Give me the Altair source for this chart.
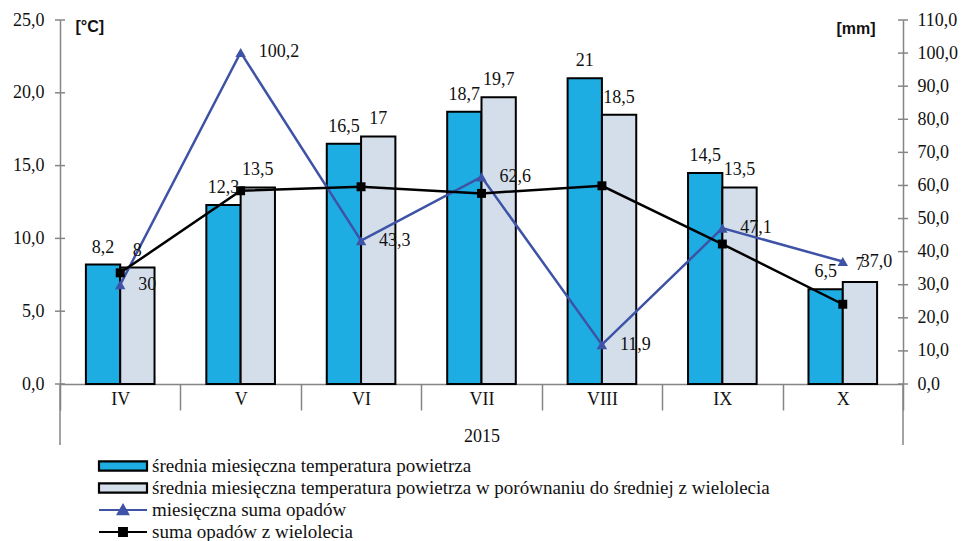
import altair as alt
import pandas as pd

months = ["IV", "V", "VI", "VII", "VIII", "IX", "X"]
temp_2015 = [8.2, 12.3, 16.5, 18.7, 21.0, 14.5, 6.5]
temp_2015_labels = ["8,2", "12,3", "16,5", "18,7", "21", "14,5", "6,5"]
temp_ref = [8.0, 13.5, 17.0, 19.7, 18.5, 13.5, 7.0]
temp_ref_labels = ["8", "13,5", "17", "19,7", "18,5", "13,5", "7"]
precip_2015 = [30.0, 100.2, 43.3, 62.6, 11.9, 47.1, 37.0]
precip_2015_labels = ["30", "100,2", "43,3", "62,6", "11,9", "47,1", "37,0"]
precip_ref = [33.6, 58.4, 59.6, 57.6, 59.9, 42.3, 24.1]
temp_ticks = [0, 5, 10, 15, 20, 25]
precip_ticks = [0, 10, 20, 30, 40, 50, 60, 70, 80, 90, 100, 110]

series_names = [
    "średnia miesięczna temperatura powietrza",
    "średnia miesięczna temperatura powietrza w porównaniu do średniej z wielolecia",
    "miesięczna suma opadów",
    "suma opadów z wielolecia",
]

C_BAR1 = "#1EADE2"
C_BAR2 = "#D3DEEA"
C_BLUE = "#3E53A6"
C_BLACK = "#000000"
AX = "#858585"
SERIF = "Times New Roman, Liberation Serif, serif"
SANS = "Arial, Liberation Sans, sans-serif"
FS = 18

W, H = 843, 364

bars_df = pd.DataFrame({
    "month": months * 2,
    "series": ["a"] * 7 + ["b"] * 7,
    "value": temp_2015 + temp_ref,
    "label": temp_2015_labels + temp_ref_labels,
    "color": [C_BAR1] * 7 + [C_BAR2] * 7,
})
precip_df = pd.DataFrame({
    "month": months,
    "p": precip_2015,
    "plabel": precip_2015_labels,
    "r": precip_ref,
})
tticks_df = pd.DataFrame({"t": temp_ticks})
pticks_df = pd.DataFrame({"t": precip_ticks})

def tscale():
    return alt.Scale(domain=[0, 25], nice=False, zero=True)

def pscale():
    return alt.Scale(domain=[0, 110], nice=False, zero=True)

xsc = alt.Scale(paddingInner=0, paddingOuter=0)
x_enc = alt.X(
    "month:N", sort=months, scale=xsc,
    axis=alt.Axis(
        title="2015", labelAngle=0, tickBand="extent", tickSize=26,
        labelPadding=-20, labelFont=SERIF, labelFontSize=FS, labelColor="#111",
        titleFont=SERIF, titleFontSize=FS, titleFontWeight="normal", titleColor="#111",
        titleY=57, titleBaseline="alphabetic",
        domainColor=AX, tickColor=AX, domainWidth=1.5, tickWidth=1.5,
    ),
)
x_plain = alt.X("month:N", sort=months, scale=xsc)
xoff = alt.XOffset("series:N", sort=["a", "b"], scale=alt.Scale(paddingInner=0, paddingOuter=0.755))

label_expr = "replace(format(datum.value, '.1f'), '.', ',')"

left_axis = alt.Axis(
    orient="left", values=temp_ticks, labelExpr=label_expr, grid=False,
    ticks=False, labelPadding=16, domainColor=AX, domainWidth=1.5,
    labelFont=SERIF, labelFontSize=FS, labelColor="#111",
    title="[°C]", titleAngle=0, titleX=15, titleY=11, titleAlign="left",
    titleBaseline="alphabetic", titleFont=SANS, titleFontWeight="bold", titleFontSize=16,
    titleColor="#111",
)
right_axis = alt.Axis(
    orient="right", values=precip_ticks, labelExpr=label_expr, grid=False,
    ticks=False, labelPadding=14, domainColor=AX, domainWidth=1.5,
    labelFont=SERIF, labelFontSize=FS, labelColor="#111",
    title="[mm]", titleAngle=0, titleX=-28, titleY=13, titleAlign="right",
    titleBaseline="alphabetic", titleFont=SANS, titleFontWeight="bold", titleFontSize=16,
    titleColor="#111",
)

bars = alt.Chart(bars_df).mark_bar(stroke="black", strokeWidth=2).encode(
    x=x_enc, xOffset=xoff,
    y=alt.Y("value:Q", scale=tscale(), axis=left_axis),
    fill=alt.Fill("color:N", scale=None),
)
bar_labels = alt.Chart(bars_df).mark_text(
    baseline="bottom", dy=-8, font=SERIF, fontSize=FS, color="#111"
).encode(
    x=x_plain, xOffset=xoff,
    y=alt.Y("value:Q", scale=tscale(), axis=None),
    text="label:N",
)
# cross-style ticks on both value axes
tticks = alt.Chart(tticks_df).mark_rule(color=AX, strokeWidth=1.5).encode(
    x=alt.value(-5), x2=alt.value(5), y=alt.Y("t:Q", scale=tscale(), axis=None),
)
pticks = alt.Chart(pticks_df).mark_rule(color=AX, strokeWidth=1.5).encode(
    x=alt.value(W - 5), x2=alt.value(W + 5), y=alt.Y("t:Q", scale=pscale(), axis=None),
)
dummy = pd.DataFrame({"d": [0]})
frame_l = alt.Chart(dummy).mark_rule(color=AX, strokeWidth=1.5).encode(
    x=alt.value(0), y=alt.value(H), y2=alt.value(H + 61),
)
frame_r = alt.Chart(dummy).mark_rule(color=AX, strokeWidth=1.5).encode(
    x=alt.value(W), y=alt.value(H), y2=alt.value(H + 61),
)

blue_line = alt.Chart(precip_df).mark_line(color=C_BLUE, strokeWidth=2.5).encode(
    x=x_plain, y=alt.Y("p:Q", scale=pscale(), axis=right_axis),
)
blue_pts = alt.Chart(precip_df).mark_point(
    shape="triangle-up", filled=True, size=110, color=C_BLUE, opacity=1
).encode(x=x_plain, y=alt.Y("p:Q", scale=pscale(), axis=None))
black_line = alt.Chart(precip_df).mark_line(color=C_BLACK, strokeWidth=2.5).encode(
    x=x_plain, y=alt.Y("r:Q", scale=pscale(), axis=None),
)
black_pts = alt.Chart(precip_df).mark_point(
    shape="square", filled=True, size=80, color=C_BLACK, opacity=1
).encode(x=x_plain, y=alt.Y("r:Q", scale=pscale(), axis=None))
p_labels = alt.Chart(precip_df).mark_text(
    align="left", baseline="middle", dx=18, font=SERIF, fontSize=FS, color="#111"
).encode(
    x=x_plain, y=alt.Y("p:Q", scale=pscale(), axis=None), text="plabel:N",
)

main = alt.layer(
    bars, tticks, pticks, frame_l, frame_r, blue_line, black_line, blue_pts, black_pts,
    bar_labels, p_labels
).resolve_scale(y="independent").properties(width=W, height=H)

rect_path = "M-1,-0.19H1V0.19H-1Z"
legend_df = pd.DataFrame({
    "label": series_names,
    "shape": [
        rect_path, rect_path,
        "M-1,0H1M-0.21,0.17L0,-0.2L0.21,0.17Z",
        "M-1,0H1M-0.16,-0.16H0.16V0.16H-0.16Z",
    ],
    "fill": [C_BAR1, C_BAR2, C_BLUE, C_BLACK],
    "stroke": [C_BLACK, C_BLACK, C_BLUE, C_BLACK],
})
ly = alt.Y("label:N", sort=series_names, axis=None, scale=alt.Scale(type="point", padding=0.5))
leg_sym = alt.Chart(legend_df).mark_point(filled=True, size=2304, strokeWidth=2.2, opacity=1).encode(
    x=alt.value(63), y=ly,
    shape=alt.Shape("shape:N", scale=None),
    fill=alt.Fill("fill:N", scale=None),
    stroke=alt.Stroke("stroke:N", scale=None),
)
leg_txt = alt.Chart(legend_df).mark_text(
    align="left", baseline="middle", font=SERIF, fontSize=19, color="#111"
).encode(x=alt.value(92), y=ly, text="label:N")
legend = alt.layer(leg_sym, leg_txt).properties(width=800, height=88)

chart = alt.vconcat(main, legend, spacing=9).properties(
    padding={"left": 4, "top": 3, "right": 0, "bottom": 0}
).configure_view(stroke=None)

chart.save("out.html", embed_options={"renderer": "svg", "actions": False})
